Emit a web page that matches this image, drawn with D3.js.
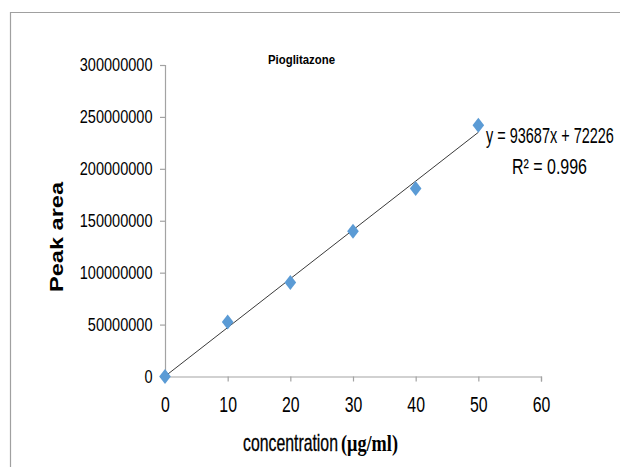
<!DOCTYPE html>
<html>
<head>
<meta charset="utf-8">
<script src="https://cdn.jsdelivr.net/npm/d3@7/dist/d3.min.js"></script>
<style>
  body { margin: 0; background: #fff; }
</style>
</head>
<body>
<svg id="chart"></svg>
<script>
// data
var concentration = [0, 10, 20, 30, 40, 50];
var peakArea = [0, 52500000, 90500000, 140000000, 181000000, 242000000];
var xTicks = [0, 10, 20, 30, 40, 50, 60];
var yTicks = [0, 50000000, 100000000, 150000000, 200000000, 250000000, 300000000];
var chartTitle = "Pioglitazone";
var equationLabel = "y = 93687x + 72226";
var rSquaredLabel = "R² = 0.996";

var W = 620, H = 467;
var svg = d3.select("#chart")
            .attr("width", W)
            .attr("height", H)
            .style("font-family", "'Liberation Sans', Arial, sans-serif");

// outer frame (only top and left edges show)
svg.append("path")
    .attr("d", "M10.5,467V12.5H620")
    .attr("fill", "none")
    .attr("stroke", "#a0a0a0")
    .attr("stroke-width", 1.2);

var x = d3.scaleLinear().domain([0, 60]).range([165, 541]);
var y = d3.scaleLinear().domain([0, 300000000]).range([376.5, 65]);

// squeeze text horizontally, the picture looks narrow
function squeeze(sel, ratio){
    sel.each(function(){
        var len = this.getComputedTextLength();
        d3.select(this).attr("textLength", len * ratio).attr("lengthAdjust", "spacingAndGlyphs");
    });
}

// place a text at (px,py) scaled in x so it is exactly w wide
function fitText(px, py, w, txt, size, family, weight){
    var t = svg.append("text").style("font-size", size).text(txt);
    if (family) t.style("font-family", family);
    if (weight) t.style("font-weight", weight);
    var len = t.node().getComputedTextLength();
    t.attr("transform", "translate(" + px + "," + py + ") scale(" + (w / len) + ",1)");
    return t;
}

var axisColor = "#a3a3a3";

var yAxis = svg.append("g")
    .attr("transform", "translate(" + x(0) + ",0)")
    .call(d3.axisLeft(y).tickValues(yTicks).tickSize(5).tickPadding(7.5).tickFormat(d3.format("d")));
yAxis.selectAll("text").style("font-size", "17.5px").attr("fill", "#000").call(squeeze, 0.83);

var xAxis = svg.append("g")
    .attr("transform", "translate(0," + y(0) + ")")
    .call(d3.axisBottom(x).tickValues(xTicks).tickSize(5).tickPadding(15).tickFormat(d3.format("d")));
xAxis.selectAll("text").style("font-size", "22px").attr("fill", "#000").call(squeeze, 0.72);

svg.selectAll(".domain").attr("stroke", axisColor).attr("stroke-width", 1.2);
svg.selectAll(".tick line").attr("stroke", axisColor).attr("stroke-width", 1.2);

// linear trend line fitted to the points
var mx = d3.mean(concentration), my = d3.mean(peakArea);
var sxy = d3.sum(concentration, function(c, i){ return (c - mx) * (peakArea[i] - my); });
var sxx = d3.sum(concentration, function(c){ return (c - mx) * (c - mx); });
var slope = sxy / sxx, intercept = my - slope * mx;
var xMin = d3.min(concentration), xMax = d3.max(concentration);

svg.append("line")
    .attr("x1", x(xMin))
    .attr("y1", y(intercept + slope * xMin))
    .attr("x2", x(xMax))
    .attr("y2", y(intercept + slope * xMax))
    .attr("stroke", "#3a3a3a")
    .attr("stroke-width", 1);

// diamond markers
svg.selectAll("path.pt")
    .data(concentration)
    .enter()
    .append("path")
    .attr("class", "pt")
    .attr("d", "M0,-7.5L5.8,0L0,7.5L-5.8,0Z")
    .attr("transform", function(d, i){ return "translate(" + x(d) + "," + y(peakArea[i]) + ")"; })
    .attr("fill", "#5b9bd5");

// title
svg.append("text")
    .attr("x", 268)
    .attr("y", 64)
    .attr("textLength", 67)
    .attr("lengthAdjust", "spacingAndGlyphs")
    .style("font-size", "12.5px")
    .style("font-weight", "bold")
    .text(chartTitle);

// equation and R²
fitText(486, 143, 128, equationLabel, "22px");
fitText(512, 174, 75, rSquaredLabel, "22px");

// axis titles
svg.append("text")
    .attr("transform", "translate(63,237) rotate(-90)")
    .attr("text-anchor", "middle")
    .attr("textLength", 110)
    .attr("lengthAdjust", "spacingAndGlyphs")
    .style("font-size", "19px")
    .style("font-weight", "bold")
    .text("Peak area");

fitText(243, 451, 95, "concentration", "23px")
    .style("stroke", "#000")
    .style("stroke-width", 0.3);
fitText(341, 451, 57, "(μg/ml)", "23px", "'Liberation Serif', 'Times New Roman', serif", "bold");
</script>
</body>
</html>
